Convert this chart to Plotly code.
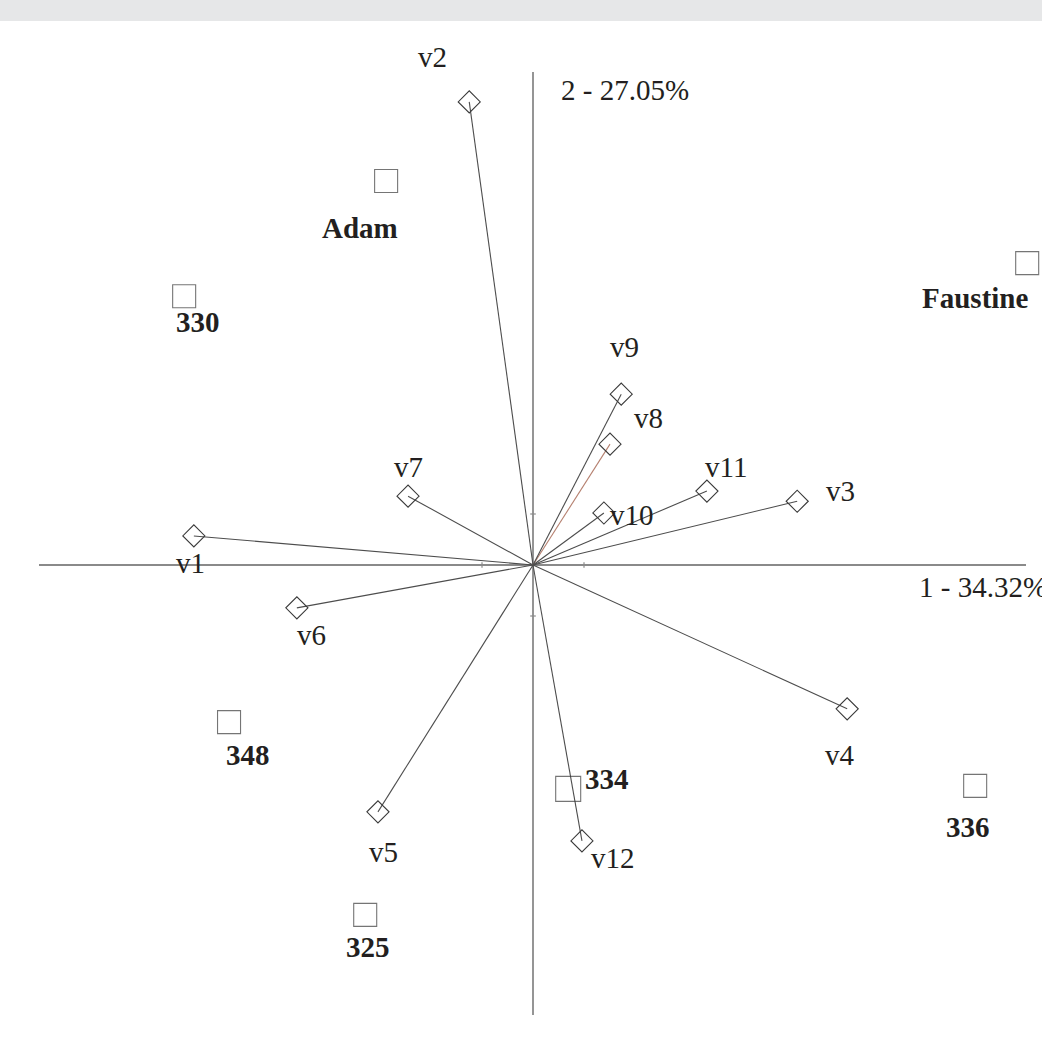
import plotly.graph_objects as go

# ---- data (biplot coordinates, 1 unit = axis tick spacing) ----
var_names = ["v1", "v2", "v3", "v4", "v5", "v6", "v7", "v8", "v9", "v10", "v11", "v12"]
var_x = [-6.65, -1.25, 5.18, 6.16, -3.04, -4.63, -2.45, 1.51, 1.73, 1.39, 3.41, 0.96]
var_y = [0.57, 9.08, 1.25, -2.82, -4.84, -0.84, 1.35, 2.37, 3.35, 1.02, 1.45, -5.41]

ind_names = ["Adam", "330", "Faustine", "348", "334", "336", "325"]
ind_x = [-2.88, -6.84, 9.69, -5.96, 0.69, 8.67, -3.29]
ind_y = [7.53, 5.27, 5.92, -3.08, -4.39, -4.33, -6.86]

axis1_label = "1 - 34.32%"
axis2_label = "2 - 27.05%"
tick_positions = [-1, 1]

# ---- styling ----
PX = 51.0  # pixels per unit
ORX, ORY = 533, 565
W, H = 1042, 1045
FONT = "Liberation Serif, Times New Roman, serif"
TXT = "#231f20"
AXC = "#8a8a8a"
LINEC = "#4d4d4d"

var_label_off = {  # pixel offsets (dx right, dy down)
    "v1": (-3, 27), "v2": (-37, -45), "v3": (43, -10), "v4": (-7, 46),
    "v5": (6, 40), "v6": (15, 27), "v7": (0, -29), "v8": (38, -26),
    "v9": (3, -47), "v10": (28, 2), "v11": (19, -24), "v12": (31, 17),
}
ind_label_off = {
    "Adam": (-26, 47), "330": (14, 26), "Faustine": (-52, 35), "348": (19, 33),
    "334": (39, -10), "336": (-7, 41), "325": (3, 32),
}
ind_size = {"334": 25}
var_line_color = {"v8": "#b5806f"}

x_range = [(0 - ORX) / PX, (W - ORX) / PX]
y_range = [(ORY - H) / PX, (ORY - 0) / PX]

fig = go.Figure()

# axes lines
fig.add_trace(go.Scatter(x=[(39 - ORX) / PX, (1026 - ORX) / PX], y=[0, 0], mode="lines",
                         line=dict(color=AXC, width=1.8), hoverinfo="skip"))
fig.add_trace(go.Scatter(x=[0, 0], y=[(ORY - 72) / PX, (ORY - 1015) / PX], mode="lines",
                         line=dict(color=AXC, width=1.8), hoverinfo="skip"))
# tick marks
fig.add_trace(go.Scatter(x=tick_positions, y=[0] * len(tick_positions), mode="markers",
                         marker=dict(symbol="line-ns", size=4, line=dict(color=AXC, width=1.2)),
                         hoverinfo="skip"))
fig.add_trace(go.Scatter(x=[0] * len(tick_positions), y=tick_positions, mode="markers",
                         marker=dict(symbol="line-ew", size=4, line=dict(color=AXC, width=1.2)),
                         hoverinfo="skip"))

# variable vectors
for n, x, y in zip(var_names, var_x, var_y):
    fig.add_trace(go.Scatter(x=[0, x], y=[0, y], mode="lines",
                             line=dict(color=var_line_color.get(n, LINEC), width=1.1),
                             hoverinfo="skip"))

# variable markers
fig.add_trace(go.Scatter(x=var_x, y=var_y, mode="markers", text=var_names,
                         marker=dict(symbol="diamond-open", size=17,
                                     color="#3a3a3a", line=dict(width=1.1))))

# individuals
fig.add_trace(go.Scatter(x=ind_x, y=ind_y, mode="markers", text=ind_names,
                         marker=dict(symbol="square-open",
                                     size=[ind_size.get(n, 23) for n in ind_names],
                                     color="#3a3a3a", line=dict(width=1.1))))

annotations = []
for n, x, y in zip(var_names, var_x, var_y):
    dx, dy = var_label_off[n]
    annotations.append(dict(x=x, y=y, text=n, showarrow=False, xshift=dx, yshift=-dy,
                            font=dict(family=FONT, size=29, color=TXT)))
for n, x, y in zip(ind_names, ind_x, ind_y):
    dx, dy = ind_label_off[n]
    annotations.append(dict(x=x, y=y, text="<b>" + n + "</b>", showarrow=False,
                            xshift=dx, yshift=-dy,
                            font=dict(family=FONT, size=29, color=TXT)))
annotations.append(dict(x=0, y=(ORY - 90) / PX, text=axis2_label, showarrow=False,
                        xanchor="left", xshift=26,
                        font=dict(family=FONT, size=29, color=TXT)))
annotations.append(dict(x=(917 - ORX) / PX, y=(ORY - 587) / PX, text=axis1_label,
                        showarrow=False, xanchor="left",
                        font=dict(family=FONT, size=29, color=TXT)))

fig.update_layout(
    width=W, height=H,
    margin=dict(l=0, r=0, t=0, b=0),
    paper_bgcolor="white", plot_bgcolor="white",
    showlegend=False,
    xaxis=dict(range=x_range, visible=False, fixedrange=True),
    yaxis=dict(range=y_range, visible=False, fixedrange=True),
    annotations=annotations,
    shapes=[dict(type="rect", xref="paper", yref="paper", x0=0, x1=1,
                 y0=1 - 21 / H, y1=1, fillcolor="#e6e7e8", line=dict(width=0), layer="below")],
)

fig.write_html("out.html")
